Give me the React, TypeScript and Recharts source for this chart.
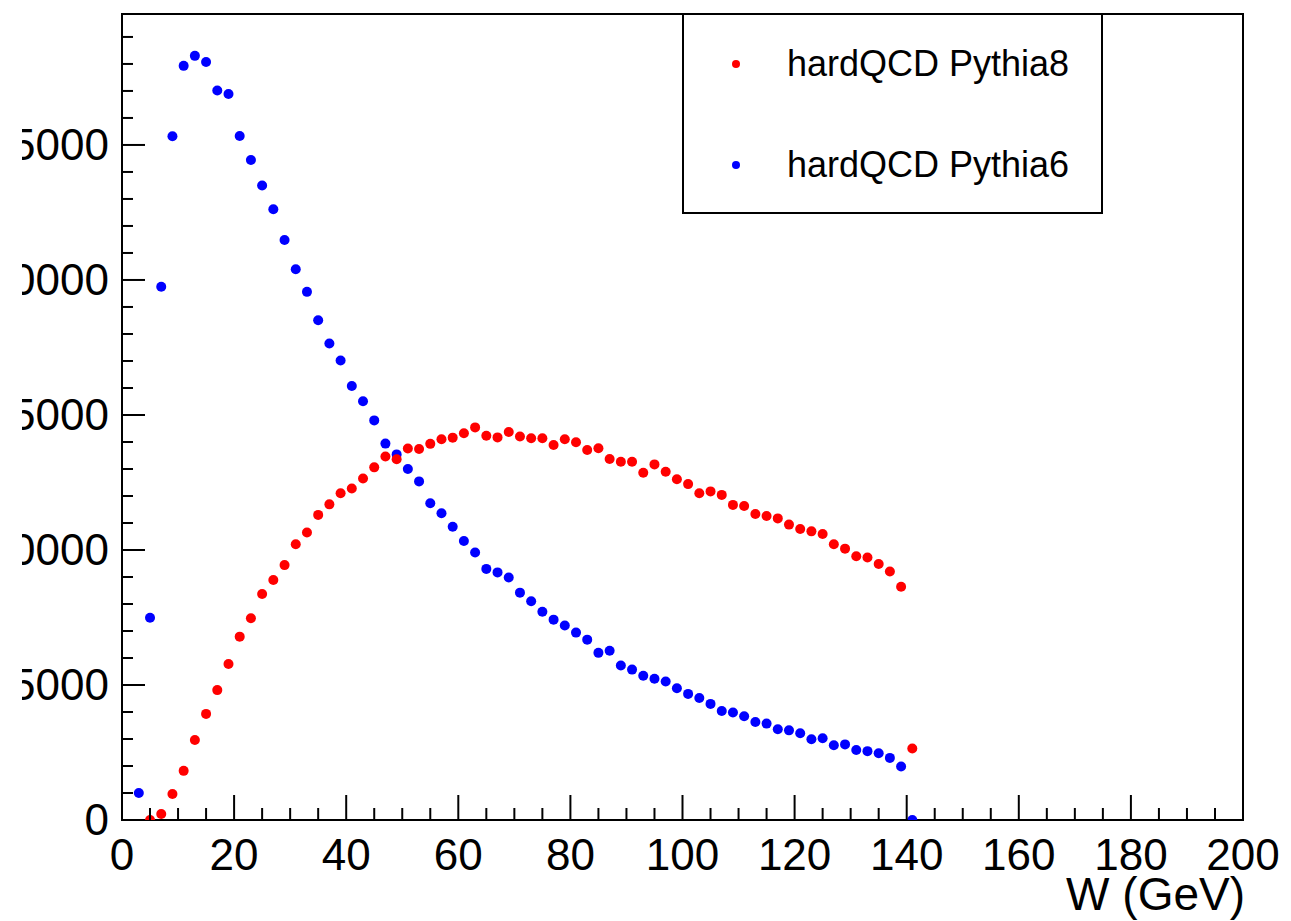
import {
  ScatterChart,
  Scatter,
  XAxis,
  YAxis,
  ReferenceArea,
  Legend,
} from "recharts";

// W bin centres (GeV), 2 GeV wide bins
const binCentres = [
  3, 5, 7, 9, 11, 13, 15, 17, 19, 21, 23, 25, 27, 29, 31, 33, 35, 37, 39, 41,
  43, 45, 47, 49, 51, 53, 55, 57, 59, 61, 63, 65, 67, 69, 71, 73, 75, 77, 79, 81,
  83, 85, 87, 89, 91, 93, 95, 97, 99, 101, 103, 105, 107, 109, 111, 113, 115,
  117, 119, 121, 123, 125, 127, 129, 131, 133, 135, 137, 139, 141,
];

// hardQCD Pythia6, starts at W = 3
const pythia6 = [
  1000, 7490, 19750, 25320, 27930, 28300, 28070, 27020, 26890, 25330, 24440,
  23500, 22620, 21480, 20400, 19560, 18510, 17650, 17020, 16070, 15510, 14800,
  13940, 13540, 13000, 12540, 11730, 11360, 10860, 10330, 9910, 9300, 9170,
  8980, 8420, 8100, 7710, 7420, 7200, 6940, 6680, 6190, 6270, 5720, 5570, 5340,
  5230, 5130, 4880, 4670, 4520, 4300, 4040, 3980, 3840, 3630, 3570, 3360, 3320,
  3210, 2990, 3030, 2770, 2800, 2590, 2550, 2470, 2300, 1980, 0,
];

// hardQCD Pythia8, starts at W = 5
const pythia8 = [
  0, 220, 960, 1820, 2960, 3930, 4810, 5780, 6790, 7470, 8370, 8890, 9440,
  10210, 10650, 11300, 11690, 12100, 12280, 12650, 13060, 13460, 13360, 13760,
  13740, 13930, 14100, 14160, 14320, 14540, 14230, 14170, 14370, 14200, 14140,
  14140, 13890, 14100, 13990, 13700, 13770, 13370, 13270, 13270, 12860, 13170,
  12900, 12620, 12440, 12100, 12170, 12040, 11670, 11630, 11330, 11260, 11170,
  10940, 10780, 10690, 10590, 10210, 10050, 9770, 9720, 9480, 9200, 8640, 2650,
];

const xMajorTicks = [0, 20, 40, 60, 80, 100, 120, 140, 160, 180, 200];
const yMajorTicks = [0, 5000, 10000, 15000, 20000, 25000];
const yMax = 29850;

const FONT = "'Liberation Sans', Arial, Helvetica, sans-serif";

const p6Data = binCentres.map((w, i) => ({ w, n: pythia6[i] }));
const p8Data = pythia8.map((n, i) => ({ w: binCentres[i + 1], n }));

// minor ticks: every 5 GeV on x, every 1000 on y
const xTicks: number[] = [];
for (let v = 0; v <= 200; v += 5) xTicks.push(v);
const yTicks: number[] = [];
for (let v = 0; v < yMax; v += 1000) yTicks.push(v);

const Dot = ({ cx, cy, fill }: any) => (
  <circle cx={cx} cy={cy} r={5} fill={fill} />
);

const XTick = ({ x, y, payload }: any) => {
  const major = xMajorTicks.includes(payload.value);
  return (
    <g>
      <line x1={x} x2={x} y1={y} y2={y - (major ? 25 : 12)} stroke="#000" strokeWidth={2} />
      {major && (
        <text x={x} y={y + 50} textAnchor="middle" fontSize={44} fontFamily={FONT} fill="#000">
          {payload.value}
        </text>
      )}
    </g>
  );
};

const YTick = ({ x, y, payload }: any) => {
  const major = yMajorTicks.includes(payload.value);
  return (
    <g>
      <line x1={x} x2={x + (major ? 23 : 11)} y1={y} y2={y} stroke="#000" strokeWidth={2} />
      {major && (
        <text x={x - 13} y={y + 15} textAnchor="end" fontSize={44} fontFamily={FONT} fill="#000">
          {payload.value}
        </text>
      )}
    </g>
  );
};

const LegendBox = ({ payload }: any) => {
  const items = [...(payload ?? [])].reverse();
  return (
    <div
      style={{
        width: 421,
        height: 201,
        boxSizing: "border-box",
        border: "2px solid #000",
        background: "#fff",
        fontFamily: FONT,
        fontSize: 36,
        color: "#000",
        position: "relative",
      }}
    >
      {items.map((p: any, i: number) => (
        <div
          key={p.value}
          style={{ position: "absolute", left: 0, top: 26 + i * 101, height: 46, display: "flex", alignItems: "center" }}
        >
          <span
            style={{
              position: "absolute",
              left: 48,
              width: 8,
              height: 8,
              borderRadius: 4,
              background: p.color,
            }}
          />
          <span style={{ position: "absolute", left: 103, whiteSpace: "nowrap" }}>{p.value}</span>
        </div>
      ))}
    </div>
  );
};

export default function App() {
  return (
    <div style={{ position: "fixed", left: 0, top: 0, width: 1291, height: 921, background: "#fff", overflow: "hidden" }}>
      <div style={{ position: "absolute", left: 22, top: 0, width: 1269, height: 921, overflow: "hidden" }}>
        <div style={{ position: "absolute", left: -22, top: 0 }}>
          <ScatterChart width={1291} height={921} margin={{ top: 14, right: 48, left: 22, bottom: 0 }}>
            <XAxis
              type="number"
              dataKey="w"
              domain={[0, 200]}
              ticks={xTicks}
              interval={0}
              tick={<XTick />}
              tickSize={0}
              tickMargin={0}
              tickLine={false}
              axisLine={false}
              height={101}
              allowDataOverflow
              label={({ viewBox }: any) => (
                <text
                  x={viewBox.x + viewBox.width + 2}
                  y={viewBox.y + 90}
                  textAnchor="end"
                  fontSize={46}
                  fontFamily={FONT}
                  fill="#000"
                >
                  W (GeV)
                </text>
              )}
            />
            <YAxis
              type="number"
              dataKey="n"
              domain={[0, yMax]}
              ticks={yTicks}
              interval={0}
              tick={<YTick />}
              tickSize={0}
              tickMargin={0}
              tickLine={false}
              axisLine={false}
              width={100}
              allowDataOverflow
            />
            <ReferenceArea x1={0} x2={200} y1={0} y2={yMax} fill="none" stroke="#000" strokeWidth={2} />
            <Legend
              layout="horizontal"
              verticalAlign="middle"
              content={<LegendBox />}
              wrapperStyle={{ left: 682, top: 13, width: 421, height: 201 }}
            />
            <Scatter name="hardQCD Pythia6" data={p6Data} fill="#0000ff" shape={<Dot />} isAnimationActive={false} />
            <Scatter name="hardQCD Pythia8" data={p8Data} fill="#ff0000" shape={<Dot />} isAnimationActive={false} />
          </ScatterChart>
        </div>
      </div>
    </div>
  );
}
